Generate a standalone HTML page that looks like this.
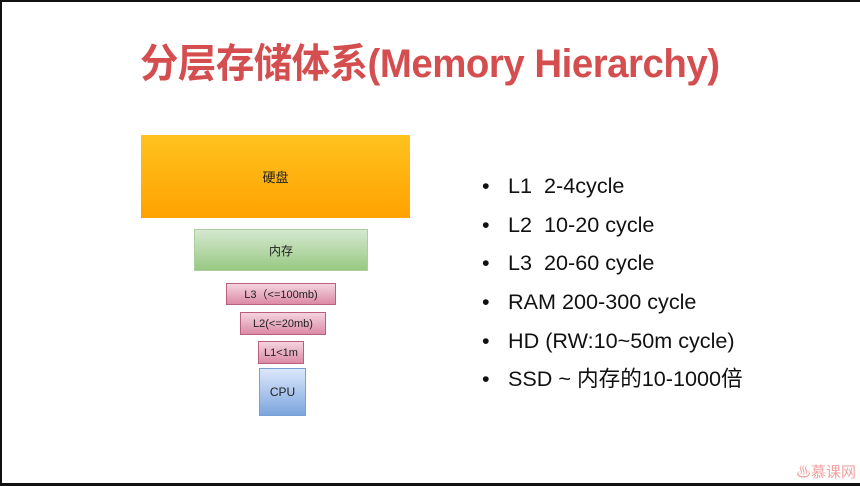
<!DOCTYPE html>
<html><head><meta charset="utf-8"><style>
html,body{margin:0;padding:0}
body{width:860px;height:486px;position:relative;background:#fff;overflow:hidden;font-family:"Liberation Sans","Noto Sans CJK SC",sans-serif}
.frame{position:absolute;left:0;top:0;width:860px;height:486px;box-sizing:border-box;border-top:2px solid #111;border-left:2px solid #111;border-bottom:3px solid #111}
.title{position:absolute;left:140px;top:31px;width:800px;font-size:40px;font-weight:bold;color:#d44e50;white-space:nowrap;transform:scaleX(0.96);transform-origin:left top;letter-spacing:-0.5px}
.b{position:absolute;display:flex;align-items:center;justify-content:center;font-size:12px;color:#222;box-sizing:border-box}
.hd{left:141px;top:135px;width:269px;height:83px;background:linear-gradient(#ffc21f,#ffa200);font-size:13px}
.mem{left:194px;top:229px;width:174px;height:42px;background:linear-gradient(#d5e8d1,#98c982);border:1px solid #a9cf9a}
.pink{background:linear-gradient(#f4d4de,#dc8aa6);border:1px solid #b8607e}
.cpu{left:259px;top:368px;width:47px;height:48px;background:linear-gradient(#dbe8fb,#7da5de);border:1px solid #7a9fd4}
ul{position:absolute;left:482px;top:172px;margin:0;padding:0;list-style:none;font-size:21.6px;color:#111}
li{height:38.7px;line-height:28px;position:relative;padding-left:26px;white-space:nowrap}
li:before{content:"•";position:absolute;left:0;top:0}
.wm{position:absolute;left:796px;top:461px;font-size:15px;color:#f0a0a0}
</style></head><body>
<div class="frame"></div>
<div class="title">分层存储体系(Memory Hierarchy)</div>
<div class="b hd">硬盘</div>
<div class="b mem">内存</div>
<div class="b pink" style="left:226px;top:283px;width:110px;height:22px;font-size:11px">L3（&lt;=100mb)</div>
<div class="b pink" style="left:240px;top:312px;width:86px;height:23px;font-size:11px">L2(&lt;=20mb)</div>
<div class="b pink" style="left:258px;top:341px;width:46px;height:23px;font-size:11px">L1&lt;1m</div>
<div class="b cpu">CPU</div>
<ul>
<li>L1&nbsp; 2-4cycle</li>
<li>L2&nbsp; 10-20 cycle</li>
<li>L3&nbsp; 20-60 cycle</li>
<li>RAM 200-300 cycle</li>
<li>HD (RW:10~50m cycle)</li>
<li>SSD ~ 内存的10-1000倍</li>
</ul>
<div class="wm">♨慕课网</div>
</body></html>
